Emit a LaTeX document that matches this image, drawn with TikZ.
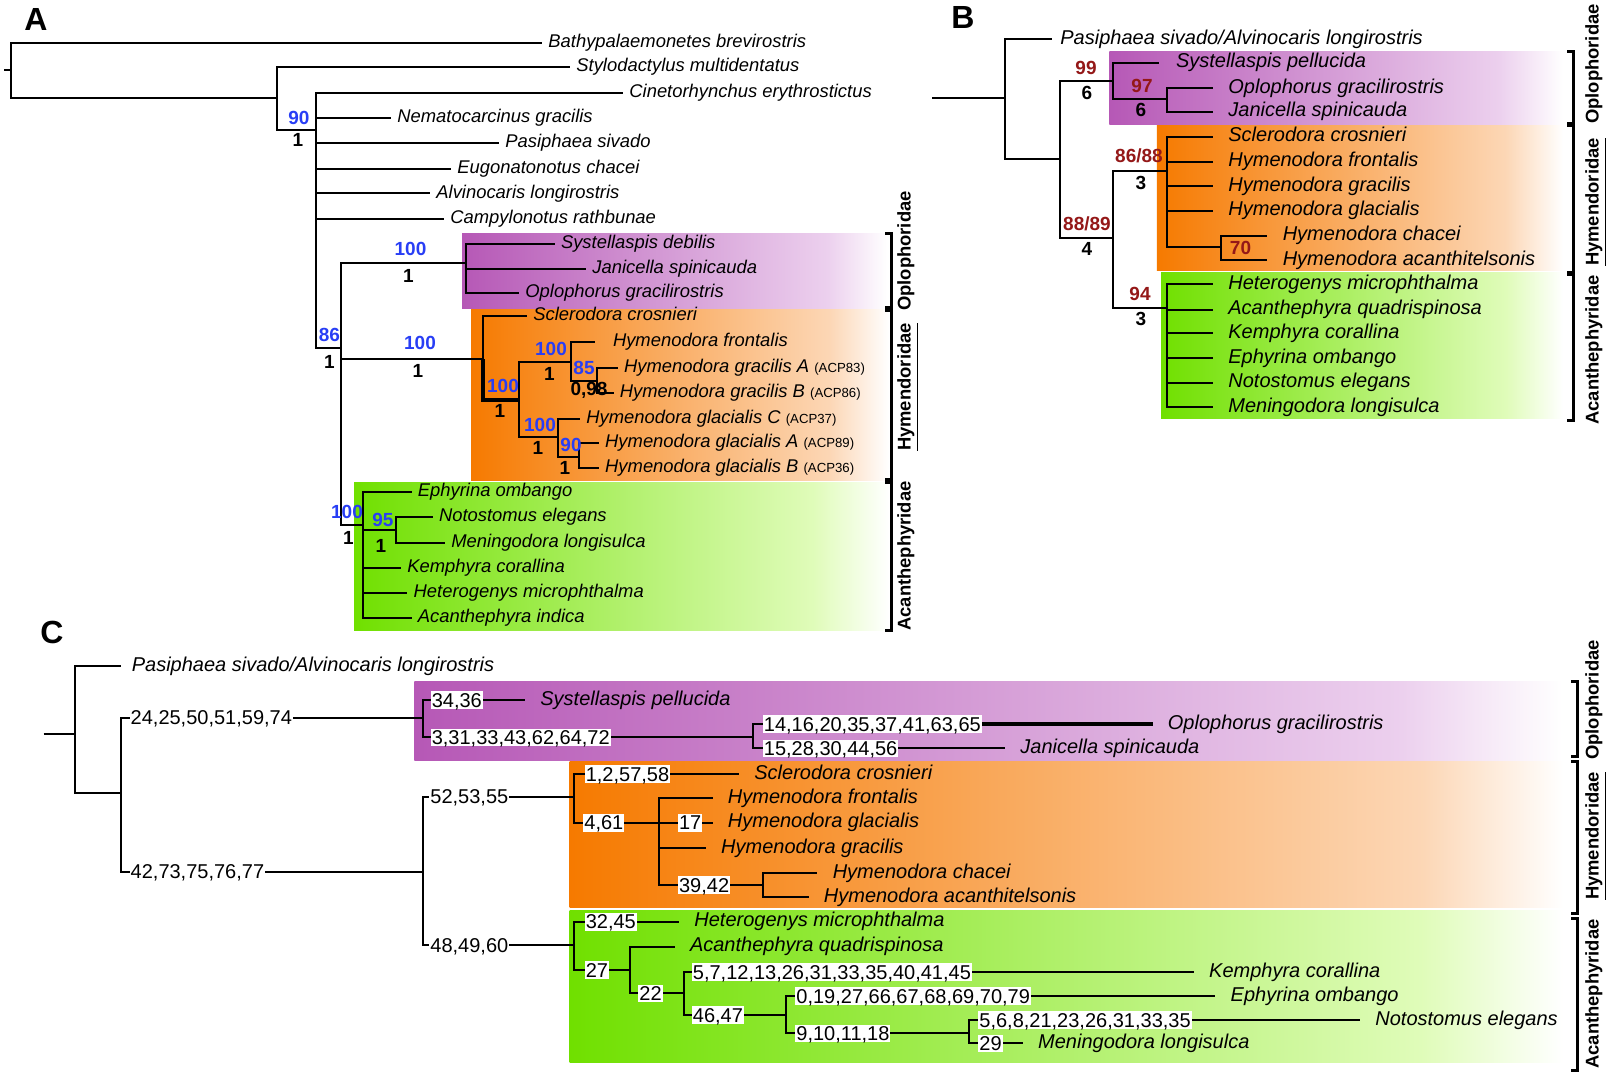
\documentclass[tikz,border=0pt]{standalone}
\usepackage{fontspec}
\setmainfont{Liberation Sans}
\usetikzlibrary{positioning}
\definecolor{purL}{RGB}{182,88,182}
\definecolor{purR}{RGB}{236,208,238}
\definecolor{orgL}{RGB}{246,122,0}
\definecolor{orgR}{RGB}{252,215,182}
\definecolor{grnL}{RGB}{112,224,0}
\definecolor{grnR}{RGB}{224,252,186}
\definecolor{mlB}{RGB}{40,62,245}
\definecolor{mlR}{RGB}{148,24,24}

\newcommand{\cladebox}[5]{%
  \shade[left color=#1L,right color=#1R] (#2,#3) rectangle ({#2+0.86*(#4-#2)+1},#5);
  \shade[left color=#1R,right color=white] ({#2+0.86*(#4-#2)},#3) rectangle (#4,#5);}
\newcommand{\famrule}[3]{\draw[brk] (#1-6,#2) -- (#1,#2) -- (#1,#3) -- (#1-6,#3);}
\newcommand{\acp}[1]{{\upshape\fontsize{6.6}{8}\selectfont(#1)}}

\tikzset{
  twig/.style={line width=1pt},
  brk/.style={line width=1.5pt},
  sp/.style={anchor=west,inner xsep=7.5pt,inner ysep=0pt,text height=7pt,text depth=1.8pt,font={\fontsize{10}{12}\selectfont\itshape}},
  spA/.style={sp,inner xsep=3pt,text height=6.45pt,text depth=1.65pt,font={\fontsize{9.2}{11}\selectfont\itshape}},
  ml/.style={inner sep=0pt,font={\fontsize{9.5}{11}\selectfont\bfseries}},
  chr/.style={anchor=west,fill=white,inner xsep=0.5pt,inner ysep=0.5pt,text height=7.4pt,text depth=0.4pt,font={\fontsize{10}{12}\selectfont}},
  fam/.style={rotate=90,inner sep=0pt,text height=6.6pt,text depth=1.9pt,font={\fontsize{9.2}{11}\selectfont\bfseries}},
  panel/.style={inner sep=0pt,font={\fontsize{16}{18}\selectfont\bfseries}},
}

\begin{document}
\begin{tikzpicture}[x=0.5pt,y=-0.5pt]
\useasboundingbox (0,0) rectangle (1614,1077);

% clade boxes
\cladebox{pur}{462}{233.3}{887}{308.3}
\cladebox{org}{471}{309.3}{889}{480}
\cladebox{grn}{354}{482.3}{889}{630}
\cladebox{pur}{1109.4}{51.7}{1563}{124}
\cladebox{org}{1156.8}{125}{1563}{270.7}
\cladebox{grn}{1161}{272.7}{1563}{418.3}
\cladebox{pur}{414.3}{681}{1562}{760}
\cladebox{org}{569.6}{761.7}{1563}{907.7}
\cladebox{grn}{569.6}{910}{1563}{1062.7}

% ---------------- panel A
\node[panel] (pA) at (36,19) {A};
\coordinate (aT) at (4,70);
\coordinate (aR) at (11,70);
\coordinate (a2) at (276.5,98.3);
\coordinate (a3) at (316,130);
\coordinate (a4) at (341,348.3);
\coordinate (aO) at (466,262.7);
\coordinate (aH) at (483,359.3);
\coordinate (aH2) at (519,400);
\coordinate (aH3) at (570.6,361.7);
\coordinate (aH4) at (596.7,380.5);
\coordinate (aH5) at (558,437.3);
\coordinate (aH6) at (578.6,457.3);
\coordinate (aA) at (363,525);
\coordinate (aA2) at (395.5,530);

\node[spA] (aBat) at (542,42.5) {Bathypalaemonetes brevirostris};
\node[spA] (aSty) at (570,67) {Stylodactylus multidentatus};
\node[spA] (aCin) at (623,92.5) {Cinetorhynchus erythrostictus};
\node[spA] (aNem) at (391,117.5) {Nematocarcinus gracilis};
\node[spA] (aPas) at (499,143) {Pasiphaea sivado};
\node[spA] (aEug) at (451,168.5) {Eugonatonotus chacei};
\node[spA] (aAlv) at (430,193.3) {Alvinocaris longirostris};
\node[spA] (aCam) at (444,218.5) {Campylonotus rathbunae};
\node[spA] (aSys) at (554.6,243.5) {Systellaspis debilis};
\node[spA] (aJan) at (586,268.5) {Janicella spinicauda};
\node[spA] (aOpl) at (519,293) {Oplophorus gracilirostris};
\node[spA] (aScl) at (527,316) {Sclerodora crosnieri};
\node[spA,inner xsep=9pt] (aFro) at (594.6,341.5) {Hymenodora frontalis};
\node[spA] (aGrA) at (617.7,367.5) {Hymenodora gracilis A \acp{ACP83}};
\node[spA] (aGrB) at (613.5,392.5) {Hymenodora gracilis B \acp{ACP86}};
\node[spA] (aGlC) at (580,418.5) {Hymenodora glacialis C \acp{ACP37}};
\node[spA] (aGlA) at (598.8,443) {Hymenodora glacialis A \acp{ACP89}};
\node[spA] (aGlB) at (598.8,467.5) {Hymenodora glacialis B \acp{ACP36}};
\node[spA] (aEph) at (411.5,492) {Ephyrina ombango};
\node[spA] (aNot) at (432.6,517) {Notostomus elegans};
\node[spA] (aMen) at (445,542.5) {Meningodora longisulca};
\node[spA] (aKem) at (401,567.5) {Kemphyra corallina};
\node[spA] (aHet) at (407.3,593) {Heterogenys microphthalma};
\node[spA] (aAin) at (411.5,618) {Acanthephyra indica};

\draw[twig] (aT) -- (aR);
\draw[twig] (aR) |- (aBat.west);
\draw[twig] (aR) |- (a2);
\draw[twig] (a2) |- (aSty.west);
\draw[twig] (a2) |- (a3);
\foreach \l in {aCin,aNem,aPas,aEug,aAlv,aCam}
  \draw[twig] (a3) |- (\l.west);
\draw[twig] (a3) |- (a4);
\draw[twig] (a4) |- (aO);
\draw[twig] (a4) |- (aH);
\draw[twig] (a4) |- (aA);
\foreach \l in {aSys,aJan,aOpl}
  \draw[twig] (aO) |- (\l.west);
\draw[twig] (aH) |- (aScl.west);
\draw[twig,line width=1.7pt] (aH) |- (aH2);
\draw[twig] (aH2) |- (aH3);
\draw[twig] (aH2) |- (aH5);
\draw[twig] (aH3) |- (aFro.west);
\draw[twig] (aH3) |- (aH4);
\draw[twig] (aH4) |- (aGrA.west);
\draw[twig] (aH4) |- (aGrB.west);
\draw[twig] (aH5) |- (aGlC.west);
\draw[twig] (aH5) |- (aH6);
\draw[twig] (aH6) |- (aGlA.west);
\draw[twig] (aH6) |- (aGlB.west);
\foreach \l in {aEph,aKem,aHet,aAin}
  \draw[twig] (aA) |- (\l.west);
\draw[twig] (aA) |- (aA2);
\draw[twig] (aA2) |- (aNot.west);
\draw[twig] (aA2) |- (aMen.west);

\node[ml,text=mlB] (mA1) at (299,117.5) {90};
\node[ml] (pA1) at (298,139.5) {1};
\node[ml,text=mlB] (mA2) at (410.5,248.5) {100};
\node[ml] (pA2) at (408.5,275.5) {1};
\node[ml,text=mlB] (mA3) at (329.5,334.5) {86};
\node[ml] (pA3) at (329.5,361.5) {1};
\node[ml,text=mlB] (mA4) at (420,342.5) {100};
\node[ml] (pA4) at (418,370.5) {1};
\node[ml,text=mlB] (mA5) at (503,385.5) {100};
\node[ml] (pA5) at (500,410.5) {1};
\node[ml,text=mlB] (mA6) at (551,349) {100};
\node[ml] (pA6) at (549.5,374) {1};
\node[ml,text=mlB] (mA7) at (584,368.3) {85};
\node[ml] (pA7) at (589,390.5) {0,98};
\node[ml,text=mlB] (mA8) at (540,425) {100};
\node[ml] (pA8) at (538,448) {1};
\node[ml,text=mlB] (mA9) at (571,445) {90};
\node[ml] (pA9) at (565,468) {1};
\node[ml,text=mlB] (mA10) at (347,511.5) {100};
\node[ml] (pA10) at (348.5,537.5) {1};
\node[ml,text=mlB] (mA11) at (383,520) {95};
\node[ml] (pA11) at (381,545.5) {1};

\famrule{891}{233}{307}
\famrule{891}{310}{479}
\famrule{891}{482}{630}
\node[fam] (fAO) at (906,251) {Oplophoridae};
\node[fam] (fAH) at (906,387) {\underline{Hymendoridae}};
\node[fam] (fAA) at (906,556) {Acanthephyridae};

% ---------------- panel B
\node[panel] (pB) at (963,17.5) {B};
\coordinate (bT) at (932.4,98.3);
\coordinate (bR) at (1005.4,98.3);
\coordinate (b2) at (1059.9,159.3);
\coordinate (bO) at (1112.5,81);
\coordinate (bO2) at (1167,99.3);
\coordinate (b3) at (1113.4,238.3);
\coordinate (bH) at (1167,171);
\coordinate (bH2) at (1221,247.3);
\coordinate (bA) at (1167,308.3);

\node[sp,inner xsep=4pt] (bPA) at (1052,39.3) {Pasiphaea sivado/Alvinocaris longirostris};
\node[sp,inner xsep=8.3pt] (bSys) at (1159,62.7) {Systellaspis pellucida};
\node[sp] (bOpl) at (1213,88.3) {Oplophorus gracilirostris};
\node[sp] (bJan) at (1213,111.7) {Janicella spinicauda};
\node[sp] (bScl) at (1213,136.7) {Sclerodora crosnieri};
\node[sp] (bFro) at (1213,161.7) {Hymenodora frontalis};
\node[sp] (bGra) at (1213,186) {Hymenodora gracilis};
\node[sp] (bGla) at (1213,210.7) {Hymenodora glacialis};
\node[sp] (bCha) at (1267.4,235.7) {Hymenodora chacei};
\node[sp] (bAca) at (1267.4,260) {Hymenodora acanthitelsonis};
\node[sp] (bHet) at (1213,284) {Heterogenys microphthalma};
\node[sp] (bAqu) at (1213,309.7) {Acanthephyra quadrispinosa};
\node[sp] (bKem) at (1213,333.3) {Kemphyra corallina};
\node[sp] (bEph) at (1213,358.3) {Ephyrina ombango};
\node[sp] (bNot) at (1213,382.7) {Notostomus elegans};
\node[sp] (bMen) at (1213,407.3) {Meningodora longisulca};

\draw[twig] (bT) -- (bR);
\draw[twig] (bR) |- (bPA.west);
\draw[twig] (bR) |- (b2);
\draw[twig] (b2) |- (bO);
\draw[twig] (b2) |- (b3);
\draw[twig] (bO) |- (bSys.west);
\draw[twig] (bO) |- (bO2);
\draw[twig] (bO2) |- (bOpl.west);
\draw[twig] (bO2) |- (bJan.west);
\draw[twig] (b3) |- (bH);
\draw[twig] (b3) |- (bA);
\foreach \l in {bScl,bFro,bGra,bGla}
  \draw[twig] (bH) |- (\l.west);
\draw[twig] (bH) |- (bH2);
\draw[twig] (bH2) |- (bCha.west);
\draw[twig] (bH2) |- (bAca.west);
\foreach \l in {bHet,bAqu,bKem,bEph,bNot,bMen}
  \draw[twig] (bA) |- (\l.west);

\node[ml,text=mlR] (mB1) at (1086,67.5) {99};
\node[ml] (pB1) at (1087,92.5) {6};
\node[ml,text=mlR] (mB2) at (1142,85.8) {97};
\node[ml] (pB2) at (1141,110) {6};
\node[ml,text=mlR] (mB3) at (1087,224) {88/89};
\node[ml] (pB3) at (1087,249) {4};
\node[ml,text=mlR] (mB4) at (1139,155.8) {86/88};
\node[ml] (pB4) at (1141,182.5) {3};
\node[ml,text=mlR] (mB5) at (1240.5,248.3) {70};
\node[ml,text=mlR] (mB6) at (1140,294) {94};
\node[ml] (pB6) at (1141,319) {3};

\famrule{1573}{51.5}{123.5}
\famrule{1573}{125.6}{272.8}
\famrule{1573}{274.8}{420}
\node[fam] (fBO) at (1594,64) {Oplophoridae};
\node[fam] (fBH) at (1594,202) {\underline{Hymendoridae}};
\node[fam] (fBA) at (1594,350) {Acanthephyridae};

% ---------------- panel C
\node[panel] (pC) at (52,632.5) {C};
\coordinate (cT) at (43.6,734);
\coordinate (cR) at (75,734);
\coordinate (cn2) at (121.4,793.3);
\coordinate (cO) at (422.5,717.7);
\coordinate (cO2) at (752.7,737.3);
\coordinate (cZ) at (422.5,871.7);
\coordinate (cH) at (574,796.7);
\coordinate (cH2) at (659,822.7);
\coordinate (cH3) at (762.5,885);
\coordinate (cA) at (574,945);
\coordinate (cA2) at (630,970);
\coordinate (cA3) at (683.5,993.3);
\coordinate (cA4) at (786,1015);
\coordinate (cA5) at (969,1033.3);

\node[sp,inner xsep=5pt] (cPA) at (121.4,666) {Pasiphaea sivado/Alvinocaris longirostris};
\node[sp] (cSys) at (525,700) {Systellaspis pellucida};
\node[sp] (cOpl) at (1152.5,724) {Oplophorus gracilirostris};
\node[sp] (cJan) at (1005,748.3) {Janicella spinicauda};
\node[sp] (cScl) at (739,774) {Sclerodora crosnieri};
\node[sp] (cFro) at (712.5,798.3) {Hymenodora frontalis};
\node[sp] (cGla) at (712.5,822.7) {Hymenodora glacialis};
\node[sp] (cGra) at (705.8,848.3) {Hymenodora gracilis};
\node[sp] (cCha) at (817.4,873.3) {Hymenodora chacei};
\node[sp] (cAca) at (808.5,897.3) {Hymenodora acanthitelsonis};
\node[sp] (cHet) at (679,921.7) {Heterogenys microphthalma};
\node[sp] (cAqu) at (674.6,946.7) {Acanthephyra quadrispinosa};
\node[sp] (cKem) at (1193.8,972) {Kemphyra corallina};
\node[sp] (cEph) at (1215.3,996) {Ephyrina ombango};
\node[sp] (cNot) at (1360,1020) {Notostomus elegans};
\node[sp] (cMen) at (1022.8,1043.3) {Meningodora longisulca};

\draw[twig] (cT) -- (cR);
\draw[twig] (cR) |- (cPA.west);
\draw[twig] (cR) |- (cn2);
\draw[twig] (cn2) |- (cO);
\draw[twig] (cn2) |- (cZ);
\draw[twig] (cO) |- (cSys.west);
\draw[twig] (cO) |- (cO2);
\draw[twig] (cO2) |- (cOpl.west);
\draw[twig] (cO2) |- (cJan.west);
\draw[twig] (cZ) |- (cH);
\draw[twig] (cZ) |- (cA);
\draw[twig] (cH) |- (cScl.west);
\draw[twig] (cH) |- (cH2);
\draw[twig] (cH2) |- (cFro.west);
\draw[twig] (cH2) |- (cGla.west);
\draw[twig] (cH2) |- (cGra.west);
\draw[twig] (cH2) |- (cH3);
\draw[twig] (cH3) |- (cCha.west);
\draw[twig] (cH3) |- (cAca.west);
\draw[twig] (cA) |- (cHet.west);
\draw[twig] (cA) |- (cA2);
\draw[twig] (cA2) |- (cAqu.west);
\draw[twig] (cA2) |- (cA3);
\draw[twig] (cA3) |- (cKem.west);
\draw[twig] (cA3) |- (cA4);
\draw[twig] (cA4) |- (cEph.west);
\draw[twig] (cA4) |- (cA5);
\draw[twig] (cA5) |- (cNot.west);
\draw[twig] (cA5) |- (cMen.west);

\node[chr] (ch24) at (129.3,717.7) {24,25,50,51,59,74};
\node[chr] (ch42) at (129.3,871.7) {42,73,75,76,77};
\node[chr] (ch34) at (430.4,700) {34,36};
\node[chr] (ch3) at (430.4,737.3) {3,31,33,43,62,64,72};
\node[chr] (ch14) at (762.5,724) {14,16,20,35,37,41,63,65};
\node[chr] (ch15) at (762.5,748.3) {15,28,30,44,56};
\node[chr] (ch52) at (429,796.7) {52,53,55};
\node[chr] (ch48) at (429,945) {48,49,60};
\node[chr] (ch1) at (584.4,774) {1,2,57,58};
\node[chr] (ch4) at (583,822.7) {4,61};
\node[chr] (ch17) at (677.7,822.7) {17};
\node[chr] (ch39) at (677.7,885) {39,42};
\node[chr] (ch32) at (584.4,921.7) {32,45};
\node[chr] (ch27) at (584.4,970) {27};
\node[chr] (ch22) at (638,993.3) {22};
\node[chr] (ch5a) at (691.5,972) {5,7,12,13,26,31,33,35,40,41,45};
\node[chr] (ch46) at (691.5,1015) {46,47};
\node[chr] (ch0) at (795,996) {0,19,27,66,67,68,69,70,79};
\node[chr] (ch9) at (795,1033.3) {9,10,11,18};
\node[chr] (ch5b) at (978,1020) {5,6,8,21,23,26,31,33,35};
\node[chr] (ch29) at (978,1043.3) {29};
\draw[twig,line width=1.7pt] (ch14.east) -- (cOpl.west);

\famrule{1577}{681}{756}
\famrule{1577}{761.7}{913.5}
\famrule{1577}{918}{1070.5}
\node[fam] (fCO) at (1594,700) {Oplophoridae};
\node[fam] (fCH) at (1594,836) {\underline{Hymendoridae}};
\node[fam] (fCA) at (1594,994) {Acanthephyridae};
\end{tikzpicture}
\end{document}
